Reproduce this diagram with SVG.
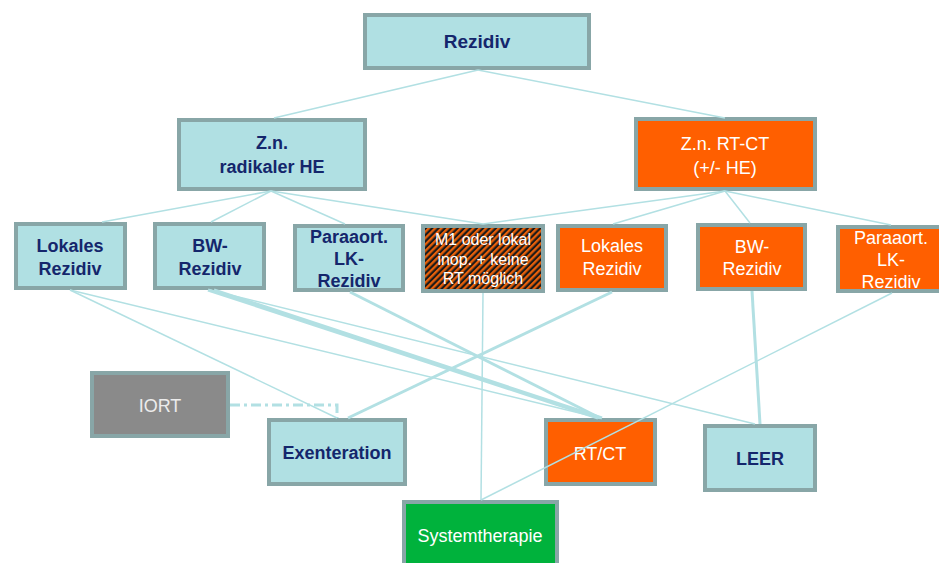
<svg xmlns="http://www.w3.org/2000/svg" width="939" height="563" viewBox="0 0 939 563">
<style>
.box{stroke:#88a6a7;stroke-width:4}
.blue{fill:#b0e0e3}
.orange{fill:#ff5f00}
.gray{fill:#8a8a8a}
.green{fill:#00b23c}
.t{font-family:"Liberation Sans",Arial,sans-serif;font-size:18px;text-anchor:middle}
.dark{fill:#14266c;font-weight:bold}
.white{fill:#ffffff}
.light{fill:#ececec}
.c{stroke:#b2e0e3;fill:none;stroke-width:1.5}
.k{stroke-width:3}
</style>
<defs>
<pattern id="hatch" patternUnits="userSpaceOnUse" width="4.5" height="4.5" patternTransform="rotate(45)">
<rect width="4.5" height="4.5" fill="#1a1a1a"/>
<rect width="2.3" height="4.5" fill="#e8600a"/>
</pattern>
</defs>
<rect width="939" height="563" fill="#ffffff"/>
<g id="n-rezidiv"><rect class="box blue" x="365" y="15" width="224" height="53"/><text class="t dark" x="477" y="48" style="font-size:19px">Rezidiv</text></g>
<g id="n-radikal"><rect class="box blue" x="179" y="120" width="186" height="69"/><text class="t dark" x="272" y="149">Z.n.</text><text class="t dark" x="272" y="173">radikaler HE</text></g>
<g id="n-rtct-pre"><rect class="box orange" x="636" y="119" width="179" height="70"/><text class="t white" x="725" y="150">Z.n. RT-CT</text><text class="t white" x="725" y="174">(+/- HE)</text></g>
<g id="n-lokal1"><rect class="box blue" x="16" y="224" width="109" height="64"/><text class="t dark" x="70" y="252">Lokales</text><text class="t dark" x="70" y="275">Rezidiv</text></g>
<g id="n-bw1"><rect class="box blue" x="155" y="224" width="109" height="64"/><text class="t dark" x="210" y="252">BW-</text><text class="t dark" x="210" y="275">Rezidiv</text></g>
<g id="n-para1"><rect class="box blue" x="295" y="226" width="108" height="64"/><text class="t dark" x="349" y="243">Paraaort.</text><text class="t dark" x="349" y="265">LK-</text><text class="t dark" x="349" y="287">Rezidiv</text></g>
<g id="n-m1"><rect class="box" fill="url(#hatch)" x="423" y="226" width="120" height="65"/><text class="t white" style="font-size:16px" x="483" y="245">M1 oder lokal</text><text class="t white" style="font-size:16px" x="483" y="265">inop. + keine</text><text class="t white" style="font-size:16px" x="483" y="284">RT möglich</text></g>
<g id="n-lokal2"><rect class="box orange" x="558" y="226" width="108" height="64"/><text class="t white" x="612" y="252">Lokales</text><text class="t white" x="612" y="275">Rezidiv</text></g>
<g id="n-bw2"><rect class="box orange" x="698" y="225" width="107" height="64"/><text class="t white" x="752" y="253">BW-</text><text class="t white" x="752" y="275">Rezidiv</text></g>
<g id="n-para2"><rect class="box orange" x="838" y="227" width="110" height="64"/><text class="t white" x="891" y="244">Paraaort.</text><text class="t white" x="891" y="266">LK-</text><text class="t white" x="891" y="288">Rezidiv</text></g>
<g id="n-iort"><rect class="box gray" x="92" y="373" width="136" height="63"/><text class="t light" x="160" y="412">IORT</text></g>
<g id="n-exent"><rect class="box blue" x="269" y="420" width="136" height="64"/><text class="t dark" x="337" y="459">Exenteration</text></g>
<g id="n-rtct"><rect class="box orange" x="546" y="420" width="109" height="64"/><text class="t white" x="600" y="460">RT/CT</text></g>
<g id="n-leer"><rect class="box blue" x="705" y="426" width="110" height="64"/><text class="t dark" x="760" y="465">LEER</text></g>
<g id="n-system"><rect class="box green" x="404" y="502" width="153" height="70"/><text class="t white" x="480" y="542">Systemtherapie</text></g>
<g id="connectors">
<line class="c" x1="478" y1="70" x2="274" y2="118"/>
<line class="c" x1="478" y1="70" x2="725" y2="118"/>
<line class="c" x1="271" y1="191" x2="102" y2="222"/>
<line class="c" x1="271" y1="191" x2="211" y2="222"/>
<line class="c" x1="271" y1="191" x2="345" y2="224"/>
<line class="c" x1="271" y1="191" x2="483" y2="224"/>
<line class="c" x1="725" y1="191" x2="483" y2="224"/>
<line class="c" x1="725" y1="191" x2="613" y2="224"/>
<line class="c" x1="725" y1="191" x2="750" y2="223"/>
<line class="c" x1="725" y1="191" x2="891" y2="225"/>
<line class="c" x1="70" y1="290" x2="337" y2="418"/>
<line class="c" x1="70" y1="290" x2="600" y2="418"/>
<line class="c" x1="210" y1="290" x2="755" y2="424"/>
<line class="c k" x1="208" y1="290" x2="598" y2="418"/>
<line class="c k" x1="214" y1="290" x2="602" y2="418"/>
<line class="c k" x1="350" y1="292" x2="600" y2="418"/>
<line class="c k" x1="612" y1="292" x2="348" y2="418"/>
<line class="c" x1="483" y1="293" x2="481" y2="500"/>
<line class="c" x1="892" y1="293" x2="481" y2="500"/>
<line class="c k" x1="752" y1="291" x2="760" y2="424"/>
<polyline class="c" style="stroke-width:3;stroke-dasharray:10,4,3,4" points="230,405 337,405 337,418"/>
</g>
</svg>
